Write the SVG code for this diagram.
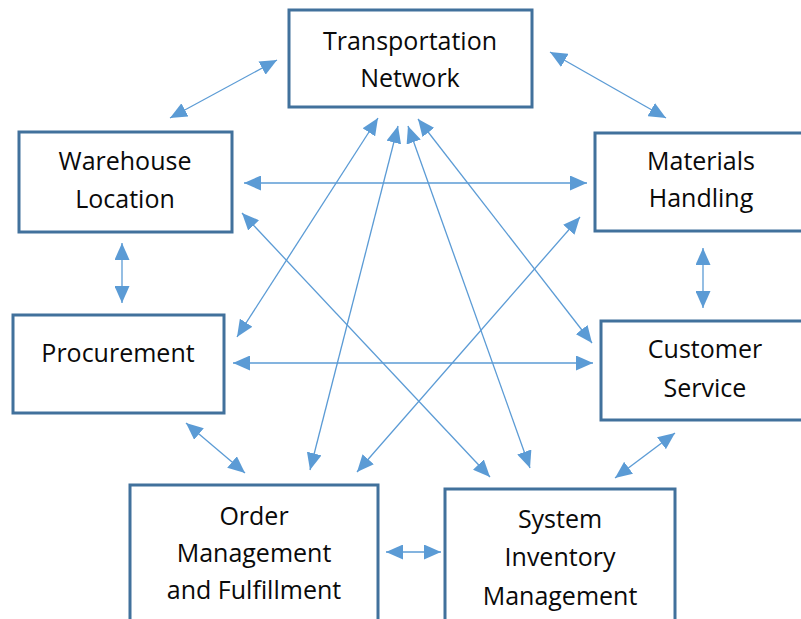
<svg xmlns="http://www.w3.org/2000/svg" width="801" height="619" viewBox="0 0 801 619">
<defs>
<style>
.box{fill:#ffffff;stroke:#41719C;stroke-width:3}
.lbl{font-family:"Open Sans","Liberation Sans",sans-serif;font-size:25px;fill:#0a0a0a;text-anchor:middle}
.con{stroke:#5B9BD5;stroke-width:1.3;fill:none;marker-start:url(#ah);marker-end:url(#ah)}
</style>
<marker id="ah" viewBox="0 0 17 15" refX="17" refY="7.5" markerWidth="17" markerHeight="15" markerUnits="userSpaceOnUse" orient="auto-start-reverse">
<path d="M0,0 L17,7.5 L0,15 z" fill="#5B9BD5"/>
</marker>
</defs>
<rect width="801" height="619" fill="#ffffff"/>
<g id="connectors">
<line class="con" x1="170" y1="118" x2="277" y2="60"/>
<line class="con" x1="550" y1="52" x2="666" y2="118"/>
<line class="con" x1="244" y1="183" x2="587" y2="183"/>
<line class="con" x1="122" y1="243" x2="122" y2="303"/>
<line class="con" x1="703" y1="248" x2="703" y2="308"/>
<line class="con" x1="233" y1="363" x2="593" y2="363"/>
<line class="con" x1="378" y1="118" x2="237" y2="337"/>
<line class="con" x1="398" y1="126" x2="310" y2="470"/>
<line class="con" x1="408" y1="126" x2="530" y2="468"/>
<line class="con" x1="418" y1="119" x2="592" y2="343"/>
<line class="con" x1="242" y1="213" x2="490" y2="477"/>
<line class="con" x1="580" y1="217" x2="357" y2="472"/>
<line class="con" x1="186" y1="423" x2="245" y2="473"/>
<line class="con" x1="675" y1="433" x2="615" y2="478"/>
<line class="con" x1="386" y1="552" x2="441" y2="552"/>
</g>
<g id="transportation-network">
<rect class="box" x="289" y="10" width="243" height="97"/>
<text class="lbl" x="410" y="50">Transportation</text>
<text class="lbl" x="410" y="87">Network</text>
</g>
<g id="warehouse-location">
<rect class="box" x="19" y="132" width="213" height="100"/>
<text class="lbl" x="125" y="170">Warehouse</text>
<text class="lbl" x="125" y="208">Location</text>
</g>
<g id="materials-handling">
<rect class="box" x="595" y="133" width="220" height="98"/>
<text class="lbl" x="701" y="170">Materials</text>
<text class="lbl" x="701" y="207">Handling</text>
</g>
<g id="procurement">
<rect class="box" x="13" y="315" width="211" height="98"/>
<text class="lbl" x="118" y="362">Procurement</text>
</g>
<g id="customer-service">
<rect class="box" x="601" y="321" width="220" height="99"/>
<text class="lbl" x="705" y="358">Customer</text>
<text class="lbl" x="705" y="397">Service</text>
</g>
<g id="order-management">
<rect class="box" x="130" y="485" width="248" height="160"/>
<text class="lbl" x="254" y="525">Order</text>
<text class="lbl" x="254" y="562">Management</text>
<text class="lbl" x="254" y="599">and Fulfillment</text>
</g>
<g id="system-inventory">
<rect class="box" x="445" y="489" width="230" height="160"/>
<text class="lbl" x="560" y="528">System</text>
<text class="lbl" x="560" y="566">Inventory</text>
<text class="lbl" x="560" y="605">Management</text>
</g>
</svg>
